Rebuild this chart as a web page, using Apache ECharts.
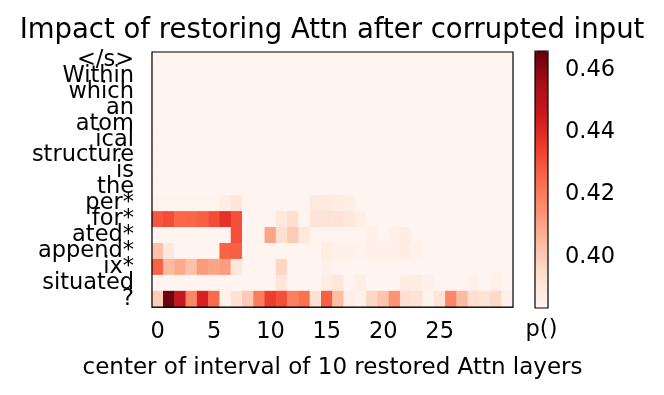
<!DOCTYPE html>
<html lang="en">
<head>
    <meta charset="UTF-8">
    <title>Impact of restoring Attn after corrupted input</title>
    <script src="https://cdn.jsdelivr.net/npm/echarts@6/dist/echarts.min.js"></script>
</head>
<body style="margin:0;background:#fff;">
<div id="box" style="width: 664px;height: 395px;"></div>
<script>
    // tokens, top to bottom
    var tokens = ['</s>', 'Within', 'which', 'an', 'atom', 'ical', 'structure', 'is', 'the',
        'per*', 'for*', 'ated*', 'append*', 'ix*', 'situated', '?'];
    var layers = ['0', '1', '2', '3', '4', '5', '6', '7', '8', '9', '10', '11', '12', '13', '14', '15',
        '16', '17', '18', '19', '20', '21', '22', '23', '24', '25', '26', '27', '28', '29', '30', '31'];
    var colorTicks = [0.40, 0.42, 0.44, 0.46];
    var vmin = 0.3836, vmax = 0.4661;

    // p() per token row, one value per layer
    var probs = [
        [0.384,0.384,0.384,0.384,0.384,0.384,0.384,0.384,0.384,0.384,0.384,0.384,0.384,0.384,0.384,0.384,0.384,0.384,0.384,0.384,0.384,0.384,0.384,0.384,0.384,0.384,0.384,0.384,0.384,0.384,0.384,0.384],
        [0.384,0.384,0.384,0.384,0.384,0.384,0.384,0.384,0.384,0.384,0.384,0.384,0.384,0.384,0.384,0.384,0.384,0.384,0.384,0.384,0.384,0.384,0.384,0.384,0.384,0.384,0.384,0.384,0.384,0.384,0.384,0.384],
        [0.384,0.384,0.384,0.384,0.384,0.384,0.384,0.384,0.384,0.384,0.384,0.384,0.384,0.384,0.384,0.384,0.384,0.384,0.384,0.384,0.384,0.384,0.384,0.384,0.384,0.384,0.384,0.384,0.384,0.384,0.384,0.384],
        [0.384,0.384,0.384,0.384,0.384,0.384,0.384,0.384,0.384,0.384,0.384,0.384,0.384,0.384,0.384,0.384,0.384,0.384,0.384,0.384,0.384,0.384,0.384,0.384,0.384,0.384,0.384,0.384,0.384,0.384,0.384,0.384],
        [0.384,0.384,0.384,0.384,0.384,0.384,0.384,0.384,0.384,0.384,0.384,0.384,0.384,0.384,0.384,0.384,0.384,0.384,0.384,0.384,0.384,0.384,0.384,0.384,0.384,0.384,0.384,0.384,0.384,0.384,0.384,0.384],
        [0.384,0.384,0.384,0.384,0.384,0.384,0.384,0.384,0.384,0.384,0.384,0.384,0.384,0.384,0.384,0.384,0.384,0.384,0.384,0.384,0.384,0.384,0.384,0.384,0.384,0.384,0.384,0.384,0.384,0.384,0.384,0.384],
        [0.384,0.384,0.384,0.384,0.384,0.384,0.384,0.384,0.384,0.384,0.384,0.384,0.384,0.384,0.384,0.384,0.384,0.384,0.384,0.384,0.384,0.384,0.384,0.384,0.384,0.384,0.384,0.384,0.384,0.384,0.384,0.384],
        [0.384,0.384,0.384,0.384,0.384,0.384,0.384,0.384,0.384,0.384,0.384,0.384,0.384,0.384,0.384,0.384,0.384,0.384,0.384,0.384,0.384,0.384,0.384,0.384,0.384,0.384,0.384,0.384,0.384,0.384,0.384,0.384],
        [0.384,0.384,0.384,0.384,0.384,0.384,0.384,0.384,0.384,0.384,0.384,0.384,0.384,0.384,0.384,0.384,0.384,0.384,0.384,0.384,0.384,0.384,0.384,0.384,0.384,0.384,0.384,0.384,0.384,0.384,0.384,0.384],
        [0.3845,0.3845,0.3845,0.3845,0.3845,0.3845,0.388,0.391,0.384,0.384,0.384,0.384,0.384,0.384,0.3895,0.3895,0.388,0.387,0.384,0.384,0.384,0.384,0.384,0.384,0.384,0.384,0.384,0.384,0.384,0.384,0.384,0.384],
        [0.429,0.4315,0.425,0.4257,0.4273,0.4315,0.4381,0.4306,0.384,0.384,0.384,0.3894,0.3943,0.384,0.392,0.392,0.392,0.3905,0.387,0.384,0.384,0.384,0.384,0.384,0.384,0.384,0.384,0.384,0.384,0.384,0.384,0.384],
        [0.384,0.384,0.384,0.384,0.384,0.384,0.384,0.4306,0.384,0.384,0.410,0.3943,0.400,0.390,0.3845,0.3845,0.3845,0.3845,0.3845,0.386,0.384,0.386,0.3877,0.384,0.384,0.384,0.384,0.384,0.384,0.384,0.384,0.384],
        [0.4026,0.390,0.384,0.384,0.384,0.384,0.4265,0.4273,0.384,0.384,0.384,0.384,0.384,0.384,0.384,0.3877,0.386,0.386,0.385,0.386,0.386,0.386,0.3877,0.386,0.384,0.384,0.384,0.384,0.384,0.384,0.384,0.384],
        [0.4265,0.4042,0.4084,0.4026,0.4125,0.410,0.4117,0.3905,0.384,0.384,0.384,0.3968,0.384,0.384,0.384,0.386,0.384,0.384,0.384,0.384,0.384,0.384,0.384,0.384,0.384,0.384,0.384,0.384,0.384,0.384,0.384,0.384],
        [0.384,0.384,0.384,0.384,0.384,0.384,0.384,0.384,0.384,0.384,0.384,0.391,0.384,0.384,0.384,0.3877,0.391,0.384,0.387,0.384,0.384,0.384,0.3885,0.388,0.386,0.384,0.384,0.384,0.386,0.384,0.386,0.384],
        [0.3993,0.465,0.4471,0.4174,0.4422,0.4249,0.3853,0.3927,0.4001,0.4199,0.4348,0.4306,0.4191,0.4232,0.3927,0.4273,0.4034,0.3869,0.3853,0.3968,0.4018,0.4141,0.3943,0.3927,0.3853,0.3918,0.4174,0.4042,0.3943,0.3918,0.396,0.386]
    ];

    var reds = ['#fff5f0', '#fee0d2', '#fcbba1', '#fc9272', '#fb6a4a', '#ef3b2c', '#cb181d', '#a50f15', '#67000d'];
    var font = 'DejaVu Sans';

    var cells = [];
    for (var r = 0; r < tokens.length; r++) {
        for (var c = 0; c < layers.length; c++) {
            cells.push([c, r, probs[r][c]]);
        }
    }

    var myChart = echarts.init(document.getElementById('box'));
    var option = {
        animation: false,
        title: {
            text: 'Impact of restoring Attn after corrupted input',
            left: 'center',
            top: 17,
            padding: 0,
            textStyle: {fontFamily: font, fontSize: 27.5, fontWeight: 'normal', color: '#000'}
        },
        grid: [
            {left: 152, top: 52, width: 361, height: 255, show: true, borderColor: '#000', borderWidth: 1.2, z: 10},
            {left: 535, top: 51, width: 13, height: 257, show: true, borderColor: '#000', borderWidth: 1.2, z: 10}
        ],
        xAxis: [
            {
                type: 'category',
                gridIndex: 0,
                data: layers,
                name: 'center of interval of 10 restored Attn layers',
                nameLocation: 'middle',
                nameGap: 50,
                nameTextStyle: {fontFamily: font, fontSize: 23, color: '#000'},
                axisLine: {show: true, lineStyle: {color: '#000', width: 1.2}},
                axisTick: {
                    alignWithLabel: true, length: 7, lineStyle: {color: '#000', width: 1.2},
                    interval: function (i) { return i % 5 === 0 && i <= 25; }
                },
                axisLabel: {
                    fontFamily: font, fontSize: 22.5, color: '#000', margin: 14,
                    interval: function (i) { return i % 5 === 0 && i <= 25; }
                },
                splitLine: {show: false}
            },
            {
                type: 'value',
                gridIndex: 1,
                min: 0, max: 1,
                name: 'p()',
                nameLocation: 'middle',
                nameGap: 11,
                nameTextStyle: {fontFamily: font, fontSize: 22.5, color: '#000', verticalAlign: 'top'},
                axisLine: {show: false},
                axisTick: {show: false},
                axisLabel: {show: false},
                splitLine: {show: false}
            }
        ],
        yAxis: [
            {
                type: 'category',
                gridIndex: 0,
                data: tokens,
                inverse: true,
                axisLine: {show: true, lineStyle: {color: '#000', width: 1.2}},
                axisTick: {alignWithLabel: true, length: 7, lineStyle: {color: '#000', width: 1.2}},
                axisLabel: {fontFamily: font, fontSize: 22.5, color: '#000', margin: 18, interval: 0},
                splitLine: {show: false}
            },
            {
                type: 'value',
                gridIndex: 1,
                position: 'right',
                min: vmin, max: vmax,
                axisLine: {show: false},
                axisTick: {show: true, length: 7, customValues: colorTicks, lineStyle: {color: '#000', width: 1.2}},
                axisLabel: {
                    fontFamily: font, fontSize: 22.5, color: '#000', margin: 17,
                    customValues: colorTicks,
                    formatter: function (v) { return v.toFixed(2); }
                },
                splitLine: {show: false}
            }
        ],
        visualMap: {
            type: 'continuous',
            min: vmin, max: vmax,
            dimension: 2,
            seriesIndex: 0,
            orient: 'vertical',
            left: 535, top: 51,
            itemWidth: 13, itemHeight: 257,
            padding: 0,
            calculable: false,
            hoverLink: false,
            showLabel: false,
            inRange: {color: reds}
        },
        series: [{
            type: 'heatmap',
            xAxisIndex: 0,
            yAxisIndex: 0,
            data: cells,
            itemStyle: {borderWidth: 0},
            emphasis: {disabled: true}
        }]
    };
    myChart.setOption(option);
</script>
</body>
</html>
